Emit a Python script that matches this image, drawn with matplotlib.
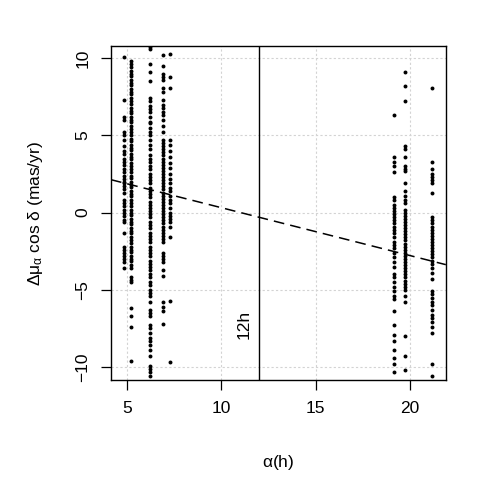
import matplotlib.pyplot as plt

plt.rcParams['font.family'] = ['Liberation Sans', 'DejaVu Sans']
plt.rcParams['mathtext.fontset'] = 'custom'
plt.rcParams['mathtext.rm'] = 'Liberation Sans'
plt.rcParams['mathtext.it'] = 'Liberation Sans'

# right ascension (hours) of each source column
col_ra = [4.84, 5.21, 6.22, 6.92, 7.28, 19.13, 19.75, 21.16]

# delta mu_alpha cos(delta) values (mas/yr) read per column
col_a = [10.1, 7.3, 6.2, 6.0, 5.2, 5.0, 4.7, 4.3, 4.0, 3.8, 3.5, 3.3, 3.1, 2.8,
         2.6, 2.4, 2.2, 2.0, 1.9, 1.7, 1.5, 1.3, 0.8, 0.6, 0.4, 0.2, 0.0, -0.2,
         -0.45, -0.6, -1.3, -2.2, -2.4, -2.6, -2.8, -3.0, -3.2, -3.6]
col_b = [9.8, 9.6, 9.45, 9.2, 9.0, 8.85, 8.6, 8.4, 8.25, 8.0, 7.8, 7.65, 7.4,
         7.2, 7.05, 6.8, 6.6, 6.45, 6.2, 6.0, 5.85, 5.6, 5.4, 5.25, 5.0, 4.8,
         4.65, 4.4, 4.2, 4.05, 3.8, 3.6, 3.45, 3.2, 3.0, 2.85, 2.6, 2.4, 2.25,
         2.0, 1.8, 1.65, 1.4, 1.2, 1.05, 0.8, 0.6, 0.45, 0.2, 0.0, -0.15, -0.4,
         -0.6, -0.75, -1.0, -1.2, -1.35, -1.6, -1.8, -1.95, -2.2, -2.4, -2.55,
         -2.8, -3.0, -3.15, -3.4, -3.6, -4.2, -4.35, -4.5, -6.2, -6.7, -7.4, -9.6]
col_c = [10.7, 10.6, 9.6, 9.1, 8.5, 7.4, 7.2, 6.9, 6.7, 6.5, 6.2, 5.9, 5.8,
         5.5, 5.2, 5.0, 4.7, 4.4, 4.1, 3.7, 3.5, 3.3, 3.0, 2.8, 2.5, 2.3, 2.1,
         1.9, 1.6, 1.4, 1.2, 1.0, 0.7, 0.5, 0.3, 0.1, -0.1, -0.3, -0.6, -0.8,
         -1.0, -1.3, -1.5, -1.7, -1.9, -2.2, -2.4, -2.6, -2.8, -3.1, -3.3, -3.5,
         -3.7, -4.0, -4.2, -4.5, -4.7, -5.0, -5.2, -5.4, -5.8, -6.3, -6.5, -6.7,
         -7.3, -7.5, -7.8, -8.1, -8.3, -8.6, -8.9, -9.3, -9.9, -10.1, -10.3,
         -10.6]
col_d = [10.2, 9.5, 9.0, 8.8, 8.6, 8.1, 7.8, 7.3, 7.0, 6.8, 6.5, 6.3, 6.0, 5.6,
         5.2, 4.7, 4.5, 4.3, 4.1, 3.9, 3.7, 3.5, 3.3, 3.1, 2.9, 2.7, 2.5, 2.3,
         2.1, 1.9, 1.7, 1.5, 1.3, 1.1, 0.9, 0.7, 0.5, 0.3, 0.1, -0.1, -0.3,
         -0.5, -0.7, -0.9, -1.1, -1.3, -1.5, -1.7, -1.9, -2.6, -2.8, -3.0, -3.2,
         -3.7, -4.1, -5.8, -6.1, -6.4, -7.2]
col_e = [10.3, 8.8, 8.1, 4.7, 4.4, 4.0, 3.6, 3.2, 2.9, 2.5, 2.2, 1.9, 1.6, 1.4,
         1.1, 0.8, 0.6, 0.3, 0.0, -0.2, -0.4, -0.6, -0.9, -1.6, -5.7, -9.7]
col_f = [6.3, 3.6, 3.3, 3.0, 2.6, 1.0, 0.8, 0.5, 0.3, 0.1, -0.1, -0.3, -0.5,
         -0.7, -0.9, -1.1, -1.3, -1.55, -1.9, -2.1, -2.3, -2.6, -2.9, -3.2,
         -3.5, -4.0, -4.2, -4.5, -4.8, -5.1, -5.4, -5.6, -6.4, -7.25, -7.9,
         -8.3, -8.9, -9.4, -9.8, -10.3]
col_g = [9.1, 8.2, 7.2, 4.3, 4.1, 3.6, 3.0, 2.8, 2.7, 1.9, 1.4, 1.1, 0.8, 0.6,
         0.2, 0.0, -0.2, -0.4, -0.6, -0.8, -1.0, -1.2, -1.4, -1.6, -1.8, -2.0,
         -2.2, -2.4, -2.6, -2.8, -3.0, -3.2, -3.4, -3.6, -3.8, -4.0, -4.2, -4.4,
         -4.6, -4.8, -5.0, -5.4, -5.8, -8.0, -9.3, -10.2]
col_h = [8.1, 3.3, 2.8, 2.5, 2.3, 2.1, 1.9, 1.3, -0.3, -0.5, -0.7, -0.9, -1.1,
         -1.3, -1.5, -1.7, -1.9, -2.1, -2.3, -2.5, -2.7, -2.9, -3.1, -3.3, -3.6,
         -3.9, -4.3, -5.1, -5.3, -5.5, -5.8, -6.0, -6.3, -6.6, -6.8, -7.1, -7.4,
         -7.8, -9.8, -10.6]

columns = [col_a, col_b, col_c, col_d, col_e, col_f, col_g, col_h]

# fitted trend line
fit_intercept = 3.42
fit_slope = -0.31

fig = plt.figure(figsize=(4.91, 4.91), dpi=100)
ax = fig.add_axes([0.226, 0.226, 0.682, 0.680])

for ra, vals in zip(col_ra, columns):
    ax.scatter([ra] * len(vals), vals, s=8, color='black', linewidths=0, zorder=3)

ax.axline((0, fit_intercept), slope=fit_slope, color='black', lw=1.1,
          dashes=(7, 4), zorder=4)
ax.axvline(12, color='black', lw=1.0, zorder=4)
ax.text(11.2, -7.25, '12h', rotation=90, ha='center', va='center', fontsize=12.5)

ax.set_xlim(4.15, 21.9)
ax.set_ylim(-10.84, 10.78)
ax.set_xticks([5, 10, 15, 20])
ax.set_yticks([-10, -5, 0, 5, 10])
ax.grid(True, color='lightgray', linestyle=(0, (2, 2)), lw=0.8)
ax.set_axisbelow(True)

ax.tick_params(direction='out', length=7, width=0.9, labelsize=12.5, pad=8)
for lab in ax.get_yticklabels():
    lab.set_rotation(90)
    lab.set_va('center')
for sp in ax.spines.values():
    sp.set_linewidth(1.0)

ax.set_xlabel(r'$\alpha$(h)', fontsize=12.5, labelpad=27)
ax.set_ylabel(r'$\Delta\mu_{\alpha}$ cos $\delta$ (mas/yr)', fontsize=12.5,
              labelpad=22)

fig.savefig('out.png', dpi=100)
